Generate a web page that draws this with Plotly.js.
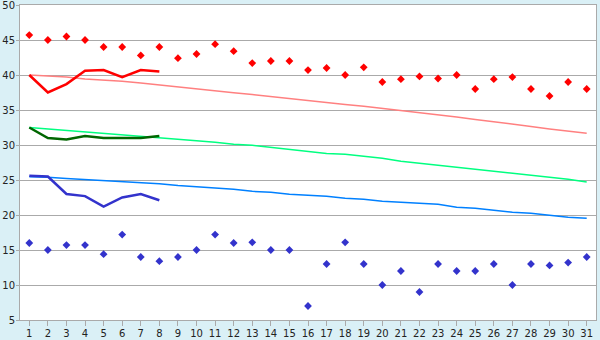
<!DOCTYPE html>
<html>
<head>
<meta charset="utf-8">
<script src="https://cdn.plot.ly/plotly-3.0.1.min.js"></script>
<style>html,body{margin:0;padding:0;background:#daf0f6;}</style>
</head>
<body>
<div id="chart" style="width:600px;height:340px;"></div>
<script>
const days = [1,2,3,4,5,6,7,8,9,10,11,12,13,14,15,16,17,18,19,20,21,22,23,24,25,26,27,28,29,30,31];
const recordMax = [45.7,45,45.5,45,44,44,42.8,44,42.4,43,44.4,43.4,41.7,42,42,40.7,41,40,41.1,39,39.4,39.8,39.5,40,38,39.4,39.7,38,37,39,38];
const recordMin = [16,15,15.7,15.7,14.4,17.2,14,13.4,14,15,17.2,16,16.1,15,15,7,13,16.1,13,10,12,9,13,12,12,13,10,13,12.8,13.2,14];
const normalMax = [40.0,39.86,39.7,39.43,39.3,39.1,38.85,38.55,38.25,37.95,37.7,37.45,37.2,36.9,36.65,36.35,36.1,35.8,35.55,35.25,35.0,34.65,34.3,34.0,33.65,33.35,33.0,32.65,32.3,32.0,31.67];
const normalMean = [32.5,32.3,32.1,31.8,31.65,31.45,31.25,31.0,30.8,30.6,30.38,30.1,29.95,29.67,29.38,29.1,28.8,28.67,28.4,28.1,27.67,27.38,27.1,26.8,26.52,26.24,25.95,25.67,25.38,25.1,24.7];
const normalMin = [25.48,25.4,25.2,25.05,24.9,24.76,24.6,24.47,24.2,24.05,23.8,23.67,23.38,23.24,22.95,22.8,22.67,22.38,22.24,21.95,21.8,21.67,21.52,21.1,20.95,20.67,20.38,20.24,19.95,19.67,19.52];
const curDays = [1,2,3,4,5,6,7,8];
const curMax = [40,37.5,38.7,40.6,40.7,39.7,40.7,40.5];
const curMean = [32.5,31.0,30.8,31.3,31.0,31.0,31.0,31.3];
const curMin = [25.6,25.5,23.0,22.7,21.2,22.5,23.0,22.1];
const yTicks = [5,10,15,20,25,30,35,40,45,50];

const traces = [
  {x: days, y: normalMax, mode:'lines', line:{color:'#ff8080', width:1.5}},
  {x: days, y: normalMean, mode:'lines', line:{color:'#00ff80', width:1.5}},
  {x: days, y: normalMin, mode:'lines', line:{color:'#0080ff', width:1.5}},
  {x: curDays, y: curMax, mode:'lines', line:{color:'#ff0000', width:2.5}},
  {x: curDays, y: curMean, mode:'lines', line:{color:'#006600', width:2.5}},
  {x: curDays, y: curMin, mode:'lines', line:{color:'#3333cc', width:2.5}},
  {x: days, y: recordMax, mode:'markers', marker:{symbol:'diamond', size:6, color:'#ff0000'}},
  {x: days, y: recordMin, mode:'markers', marker:{symbol:'diamond', size:6, color:'#3333cc'}}
];

const layout = {
  width:600, height:340,
  margin:{l:20, r:4, t:5, b:20, pad:0},
  paper_bgcolor:'#daf0f6',
  plot_bgcolor:'#ffffff',
  showlegend:false,
  font:{family:'DejaVu Sans, Verdana, sans-serif', size:10, color:'#222'},
  xaxis:{
    range:[0.5,31.5], tickmode:'array', tickvals:days, ticktext:days.map(String),
    showgrid:false, zeroline:false,
    showline:true, linecolor:'#aaaaaa', linewidth:1, mirror:true,
    ticks:'outside', ticklen:5, tickcolor:'#aaaaaa',
    ticklabelstandoff:-1, ticklabeloverflow:'allow',
    tickfont:{size:10}
  },
  yaxis:{
    range:[5,50], tickmode:'array', tickvals:yTicks, ticktext:yTicks.map(String),
    showgrid:true, gridcolor:'#aaaaaa', gridwidth:1, zeroline:false,
    showline:true, linecolor:'#aaaaaa', linewidth:1, mirror:true,
    ticks:'outside', ticklen:3, tickcolor:'#aaaaaa',
    ticklabelstandoff:-1, ticklabeloverflow:'allow',
    tickfont:{size:10}
  }
};

Plotly.newPlot('chart', traces, layout, {displayModeBar:false, staticPlot:true});
</script>
</body>
</html>
